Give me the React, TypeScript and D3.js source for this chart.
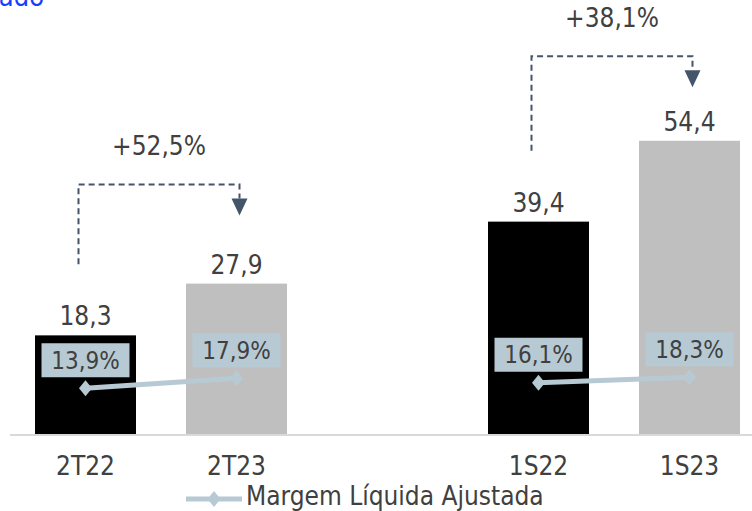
import React from "react";
import * as d3 from "d3";

const categories = ["2T22", "2T23", "", "1S22", "1S23"];
const barCategories = ["2T22", "2T23", "1S22", "1S23"];
const barValues = [18.3, 27.9, 39.4, 54.4];
const barLabels = ["18,3", "27,9", "39,4", "54,4"];
const marginValues = [13.9, 17.9, 16.1, 18.3];
const marginLabels = ["13,9%", "17,9%", "16,1%", "18,3%"];
const lineGroups = [["2T22", "2T23"], ["1S22", "1S23"]];
const growthPairs = [["2T22", "2T23"], ["1S22", "1S23"]];
const growthLabels = ["+52,5%", "+38,1%"];
const legendLabel = "Margem Líquida Ajustada";
const titleText = "Lucro Líquido Ajustado";

const W = 752;
const H = 511;
const FONT = "'DejaVu Sans Condensed', 'DejaVu Sans', Verdana, sans-serif";
const TEXT = "#404040";
const LINE_C = "#b7cad4";
const ARROW_C = "#44546a";
const barColors = ["#000000", "#bfbfbf", "#000000", "#bfbfbf"];

export default function App() {
  const x = d3
    .scaleBand<string>()
    .domain(categories)
    .range([10, 765])
    .paddingInner(50 / 151)
    .paddingOuter(25 / 151);
  const y = d3.scaleLinear().domain([0, 60]).range([434, 434 - 60 * 5.39]);
  const yLine = d3.scaleLinear().domain([0, 20]).range([423, 373]);
  const cx = (c: string) => (x(c) as number) + x.bandwidth() / 2;
  const idx = (c: string) => barCategories.indexOf(c);

  const lineGen = d3
    .line<string>()
    .x((c) => cx(c))
    .y((c) => yLine(marginValues[idx(c)]));

  const diamond = "M0,-8L6.5,0L0,8L-6.5,0Z";

  return (
    <svg
      width={W}
      height={H}
      style={{ position: "fixed", left: 0, top: 0, background: "#fff", fontStretch: "condensed" }}
      fontFamily={FONT}
    >
      <text x={44} y={6} textAnchor="end" fill="#1a3cff" fontSize={27}>
        {titleText}
      </text>

      <line x1={10} x2={W} y1={435} y2={435} stroke="#d9d9d9" strokeWidth={2} />

      {barCategories.map((c, i) => (
        <rect
          key={c}
          x={x(c)}
          y={y(barValues[i])}
          width={x.bandwidth()}
          height={y(0) - y(barValues[i])}
          fill={barColors[i]}
        />
      ))}

      {barCategories.map((c, i) => (
        <text
          key={"v" + c}
          x={cx(c)}
          y={y(barValues[i]) - 10}
          textAnchor="middle"
          fontSize={26}
          fill={TEXT}
        >
          {barLabels[i]}
        </text>
      ))}

      {barCategories.map((c) => (
        <text key={"c" + c} x={cx(c)} y={475} textAnchor="middle" fontSize={26} fill={TEXT}>
          {c}
        </text>
      ))}

      {growthPairs.map(([a, b], gi) => {
        const lx = cx(a) - 7;
        const rx = cx(b) + 3;
        const mid = (y(barValues[idx(a)]) + y(barValues[idx(b)])) / 2;
        const top = mid - 125;
        const bottom = y(barValues[idx(a)]) - 71;
        const tip = mid - 94;
        const arrowBase = tip - 17;
        return (
          <g key={"g" + gi}>
            <path
              d={`M${lx},${bottom}V${top}H${rx}V${arrowBase}`}
              fill="none"
              stroke={ARROW_C}
              strokeWidth={2}
              strokeDasharray="6,4"
            />
            <path
              d={`M${rx - 8},${arrowBase}L${rx + 8},${arrowBase}L${rx},${tip}Z`}
              fill={ARROW_C}
            />
            <text
              x={(lx + rx) / 2}
              y={top - 29}
              textAnchor="middle"
              fontSize={26}
              fill={TEXT}
            >
              {growthLabels[gi]}
            </text>
          </g>
        );
      })}

      {lineGroups.map((g, gi) => (
        <path
          key={"l" + gi}
          d={lineGen(g) as string}
          fill="none"
          stroke={LINE_C}
          strokeWidth={5}
        />
      ))}
      {barCategories.map((c, i) => (
        <path
          key={"m" + c}
          d={diamond}
          transform={`translate(${cx(c)},${yLine(marginValues[i])})`}
          fill={LINE_C}
        />
      ))}

      {barCategories.map((c, i) => {
        const py = yLine(marginValues[i]) - 28;
        return (
          <g key={"ml" + c}>
            <rect x={cx(c) - 44} y={py - 17} width={88} height={34} fill={LINE_C} />
            <text
              x={cx(c)}
              y={py + 8.5}
              textAnchor="middle"
              fontSize={24}
              fill={TEXT}
            >
              {marginLabels[i]}
            </text>
          </g>
        );
      })}

      <line x1={186} x2={242} y1={499} y2={499} stroke={LINE_C} strokeWidth={5} />
      <path d={diamond} transform="translate(214,499)" fill={LINE_C} />
      <text x={246} y={505} fontSize={26} fill={TEXT}>
        {legendLabel}
      </text>
    </svg>
  );
}
